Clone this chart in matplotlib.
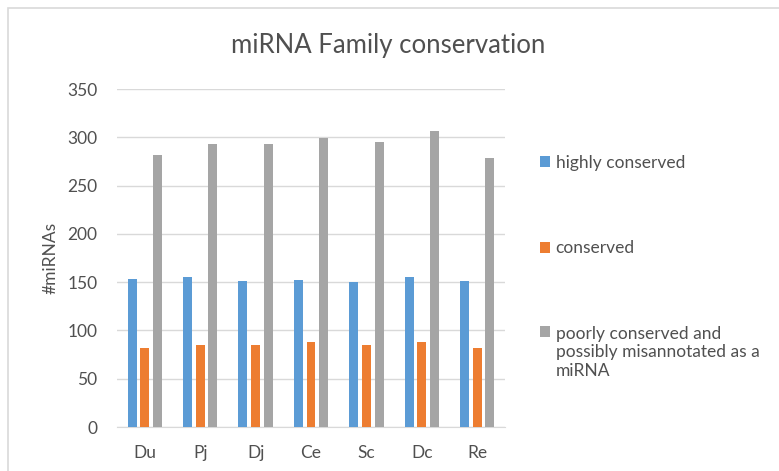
import numpy as np
import matplotlib.pyplot as plt
from matplotlib.patches import Rectangle

plt.rcParams['font.family'] = ['Lato', 'DejaVu Sans']

species = ['Du', 'Pj', 'Dj', 'Ce', 'Sc', 'Dc', 'Re']
highly_conserved = [153, 155, 151, 152, 150, 155, 151]
conserved = [82, 85, 85, 88, 85, 88, 82]
poorly_conserved = [282, 293, 293, 299, 295, 306, 279]

series_labels = ['highly conserved', 'conserved',
                 'poorly conserved and\npossibly misannotated as a\nmiRNA']
colors = ['#5B9BD5', '#ED7D31', '#A5A5A5']
text_color = '#505050'

fig = plt.figure(figsize=(7.79, 4.71), dpi=100)
ax = fig.add_axes([117 / 779, 1 - 427 / 471, 388 / 779, 338 / 471])

x = np.arange(len(species))
width = 0.162
step = 0.229
for i, (vals, lab, col) in enumerate(zip([highly_conserved, conserved, poorly_conserved],
                                         series_labels, colors)):
    ax.bar(x + (i - 1) * step, vals, width, color=col, label=lab, zorder=3)

ax.set_xlim(-0.5, len(species) - 0.5)
ax.set_ylim(0, 350)
ax.set_yticks(range(0, 351, 50))
ax.set_xticks(x)
ax.set_xticklabels(species)
ax.grid(axis='y', color='#D9D9D9', linewidth=1, zorder=0)
for s in ['top', 'right', 'left']:
    ax.spines[s].set_visible(False)
ax.spines['bottom'].set_color('#D9D9D9')
ax.tick_params(axis='both', length=0, labelsize=12.5, labelcolor=text_color)
ax.tick_params(axis='y', pad=14)
ax.tick_params(axis='x', pad=13)
ax.set_ylabel('#miRNAs', fontsize=12.5, color=text_color, labelpad=6)

fig.suptitle('miRNA Family conservation', x=388 / 779, y=1 - 45 / 471,
             va='center', fontsize=18.5, color=text_color)

leg = ax.legend(loc='upper left', bbox_to_anchor=(533 / 779, 1 - 148 / 471),
                bbox_transform=fig.transFigure, frameon=False, fontsize=12.5,
                handlelength=0.6, handleheight=0.6, handletextpad=0.3,
                labelspacing=4.0, borderaxespad=0)
for t in leg.get_texts():
    t.set_color(text_color)
# keep the marker of the multi-line entry level with its first line
last = leg.legend_handles[2]
last.set_y(last.get_y() + 15.5)

# outer chart frame
fig.patches.append(Rectangle((8 / 779, -0.1), 1.2, 1 - 8 / 471 + 0.1,
                             transform=fig.transFigure, fill=False,
                             edgecolor='#D9D9D9', linewidth=1.2))

fig.savefig('out.png', dpi=100)
